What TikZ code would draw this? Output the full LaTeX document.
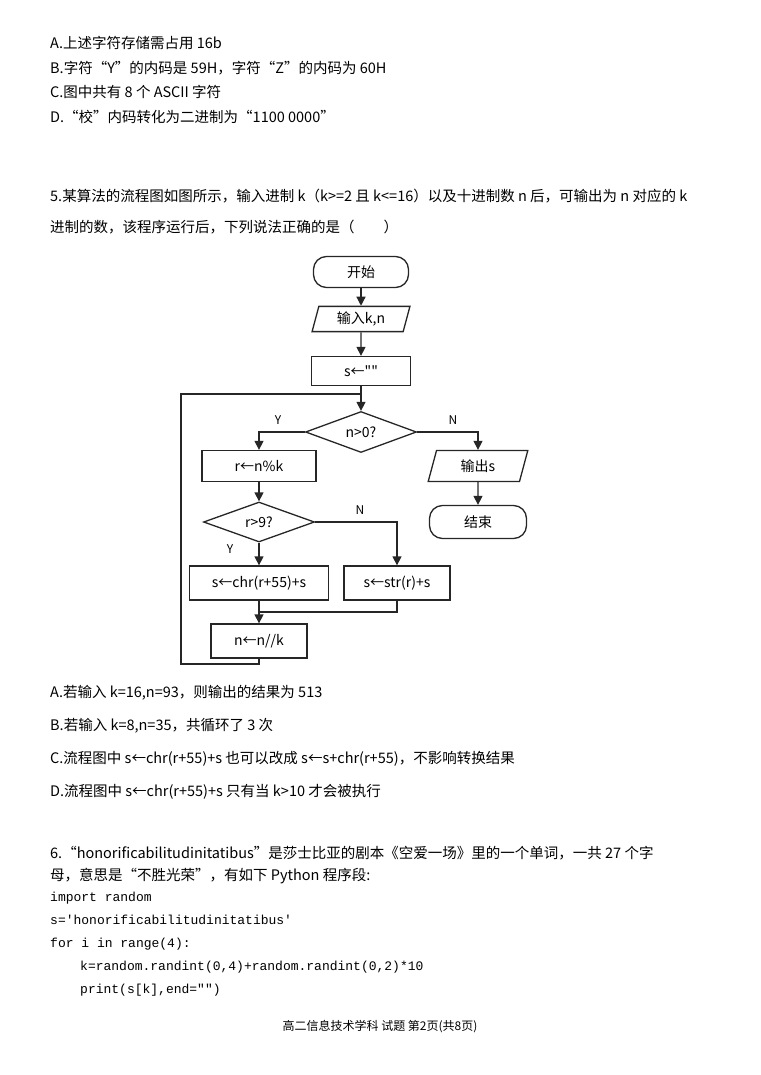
\documentclass[tikz,border=0pt]{standalone}
\usepackage{fontspec}
\setmainfont{Noto Sans CJK SC}
\newfontfamily\flowfont{Noto Sans CJK SC}
\newfontfamily\codefont{Liberation Mono}
\usetikzlibrary{shapes.geometric,arrows.meta}
\tikzset{
  line/.style={line width=1.3pt,draw=black!85},
  arr/.style={line,-{Triangle[length=9pt,width=9pt]}},
  proc/.style={line,rectangle,inner sep=0pt,font=\flowfont\fontsize{14}{14}\selectfont},
  term/.style={proc,rounded corners=13pt},
  io/.style={line,trapezium,trapezium left angle=75,trapezium right angle=105,inner sep=0pt,font=\flowfont\fontsize{14}{14}\selectfont},
  cond/.style={line,diamond,aspect=2.7,inner sep=0pt,font=\flowfont\fontsize{14}{14}\selectfont},
  txt/.style={anchor=west,inner sep=0pt,font=\fontsize{14.5}{14.5}\selectfont},
  code/.style={anchor=west,inner sep=0pt,font=\codefont\fontsize{13}{13}\selectfont},
  lab/.style={inner sep=0pt,font=\fontsize{12}{12}\selectfont}
}
\begin{document}
\begin{tikzpicture}[x=1pt,y=-1pt]
  \useasboundingbox (0,0) rectangle (760,1075);
  % question 4 options
  \node[txt] (q4a) at (50,43) {A.上述字符存储需占用 16b};
  \node[txt] (q4b) at (50,68) {B.字符“Y”的内码是 59H，字符“Z”的内码为 60H};
  \node[txt] (q4c) at (50,92) {C.图中共有 8 个 ASCII 字符};
  \node[txt] (q4d) at (50,117) {D.“校”内码转化为二进制为“1100 0000”};
  % question 5
  \node[txt] (q5a) at (50,196) {5.某算法的流程图如图所示，输入进制 k（k>=2 且 k<=16）以及十进制数 n 后，可输出为 n 对应的 k};
  \node[txt] (q5b) at (50,227) {进制的数，该程序运行后，下列说法正确的是（\quad\quad）};
  % flowchart
  \node[term,minimum width=95pt,minimum height=31pt] (start) at (361,272) {开始};
  \node[io,minimum width=98pt,minimum height=25pt] (input) at (361,319) {输入k,n};
  \node[proc,minimum width=99pt,minimum height=29pt] (init) at (361,371) {s←""};
  \node[cond,minimum width=111pt,minimum height=41pt] (test) at (361,432) {n>0?};
  \node[proc,minimum width=114pt,minimum height=31pt] (mod) at (259,466) {r←n\%k};
  \node[io,minimum width=92pt,minimum height=31pt] (output) at (478,466) {输出s};
  \node[term,minimum width=97pt,minimum height=33pt] (stop) at (478,522) {结束};
  \node[cond,minimum width=111pt,minimum height=40pt] (big) at (259,522) {r>9?};
  \node[proc,minimum width=139pt,minimum height=34pt] (chr) at (259,583) {s←chr(r+55)+s};
  \node[proc,minimum width=106pt,minimum height=34pt] (str) at (397,583) {s←str(r)+s};
  \node[proc,minimum width=96pt,minimum height=34pt] (div) at (259,641) {n←n//k};
  \coordinate (join) at (259,612);
  \coordinate (back) at (181,664);
  \coordinate (top) at (361,394);
  \draw[arr] (start) -- (input);
  \draw[arr] (input) -- (init);
  \draw[arr] (init) -- (test);
  \draw[arr] (test.west) -| (mod.north);
  \draw[arr] (test.east) -| (output.north);
  \draw[arr] (output) -- (stop);
  \draw[arr] (mod) -- (big);
  \draw[arr] (big) -- (chr);
  \draw[arr] (big.east) -| (str.north);
  \draw[line] (str.south) |- (join);
  \draw[arr] (chr.south) -- (div.north);
  \draw[line] (div.south) |- (back) |- (top);
  \node[lab] (y1) at (278,420) {Y};
  \node[lab] (n1) at (453,420) {N};
  \node[lab] (n2) at (360,510) {N};
  \node[lab] (y2) at (230,549) {Y};
  % options
  \node[txt] (q5o1) at (50,693) {A.若输入 k=16,n=93，则输出的结果为 513};
  \node[txt] (q5o2) at (50,726) {B.若输入 k=8,n=35，共循环了 3 次};
  \node[txt] (q5o3) at (50,759) {C.流程图中 s←chr(r+55)+s 也可以改成 s←s+chr(r+55)，不影响转换结果};
  \node[txt] (q5o4) at (50,792) {D.流程图中 s←chr(r+55)+s 只有当 k>10 才会被执行};
  % question 6
  \node[txt] (q6a) at (50,853) {6.“honorificabilitudinitatibus”是莎士比亚的剧本《空爱一场》里的一个单词，一共 27 个字};
  \node[txt] (q6b) at (50,876) {母，意思是“不胜光荣”，有如下 Python 程序段:};
  \node[code] (c1) at (50,898) {import random};
  \node[code] (c2) at (50,920) {s='honorificabilitudinitatibus'};
  \node[code] (c3) at (50,944) {for i in range(4):};
  \node[code] (c4) at (80,967) {k=random.randint(0,4)+random.randint(0,2)*10};
  \node[code] (c5) at (80,990) {print(s[k],end="")};
  \node[lab] (foot) at (380,1027) {高二信息技术学科 试题 第2页(共8页)};
\end{tikzpicture}
\end{document}
